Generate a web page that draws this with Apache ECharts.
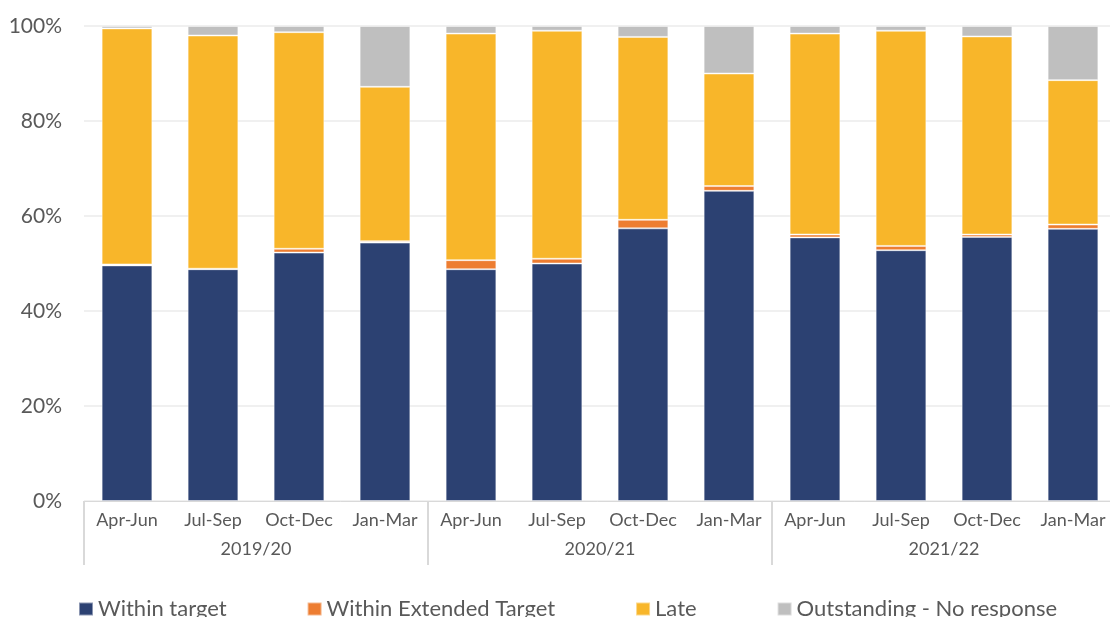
<!DOCTYPE html>
<html>
<head>
<meta charset="utf-8">
<style>
  html, body { margin: 0; padding: 0; background: #fff; }
  #chart { width: 1110px; height: 617px; }
</style>
<script src="https://cdn.jsdelivr.net/npm/echarts@6/dist/echarts.min.js"></script>
</head>
<body>
<div id="chart"></div>
<script>
// quarters and financial years
const quarters = ['Apr-Jun', 'Jul-Sep', 'Oct-Dec', 'Jan-Mar',
                  'Apr-Jun', 'Jul-Sep', 'Oct-Dec', 'Jan-Mar',
                  'Apr-Jun', 'Jul-Sep', 'Oct-Dec', 'Jan-Mar']
const years = ['2019/20', '2020/21', '2021/22']

// percentages per quarter
const withinTarget = [49.6, 48.8, 52.3, 54.4, 48.8, 50.0, 57.4, 65.3, 55.5, 52.8, 55.6, 57.3]
const withinExtended = [0.2, 0.1, 0.8, 0.3, 1.9, 1.0, 1.8, 1.0, 0.6, 0.9, 0.5, 0.9]
const late = [49.7, 49.1, 45.6, 32.5, 47.7, 48.0, 38.5, 23.7, 42.3, 45.3, 41.7, 30.4]
const outstanding = [0.5, 2.0, 1.3, 12.8, 1.6, 1.0, 2.3, 10.0, 1.6, 1.0, 2.2, 11.4]

const yTicks = [0, 20, 40, 60, 80, 100]

const font = 'Lato'
const textColor = '#595959'

const chart = echarts.init(document.getElementById('chart'))

const barSeries = (name, data, color) => ({
  name: name,
  type: 'bar',
  stack: 'total',
  barWidth: '59%',
  data: data,
  itemStyle: { color: color, borderColor: 'rgba(255,255,255,0.45)', borderWidth: 1 }
})

chart.setOption({
  animation: false,
  textStyle: { fontFamily: font },
  // plot runs a little past the right edge, like the original
  grid: { left: 84, width: 1032, top: 26, bottom: 116, outerBoundsMode: 'none' },
  legend: {
    left: 78,
    top: 598,
    padding: 0,
    itemWidth: 14,
    itemHeight: 13,
    itemGap: 80,
    icon: 'rect',
    textStyle: { fontFamily: font, fontSize: 22, color: textColor },
    data: ['Within target', 'Within Extended Target', 'Late', 'Outstanding - No response']
  },
  xAxis: [
    {
      type: 'category',
      data: quarters,
      axisLine: { lineStyle: { color: '#D9D9D9', width: 1 } },
      axisTick: { show: false },
      axisLabel: { color: textColor, fontSize: 18, fontFamily: font, margin: 10, interval: 0 }
    },
    {
      type: 'category',
      data: years,
      position: 'bottom',
      axisLine: { show: false },
      axisTick: { show: true, length: 64, lineStyle: { color: '#D9D9D9', width: 2 } },
      axisLabel: { color: textColor, fontSize: 18, fontFamily: font, margin: 39 }
    }
  ],
  yAxis: {
    type: 'value',
    min: yTicks[0],
    max: yTicks[yTicks.length - 1],
    interval: 20,
    axisLine: { show: false },
    axisTick: { show: false },
    axisLabel: { formatter: '{value}%', color: textColor, fontSize: 21, fontFamily: font, margin: 22 },
    splitLine: { lineStyle: { color: '#F0F0F0', width: 2 } }
  },
  series: [
    barSeries('Within target', withinTarget, '#2C4172'),
    barSeries('Within Extended Target', withinExtended, '#ED7D31'),
    barSeries('Late', late, '#F8B62A'),
    barSeries('Outstanding - No response', outstanding, '#BFBFBF')
  ]
})
</script>
</body>
</html>
